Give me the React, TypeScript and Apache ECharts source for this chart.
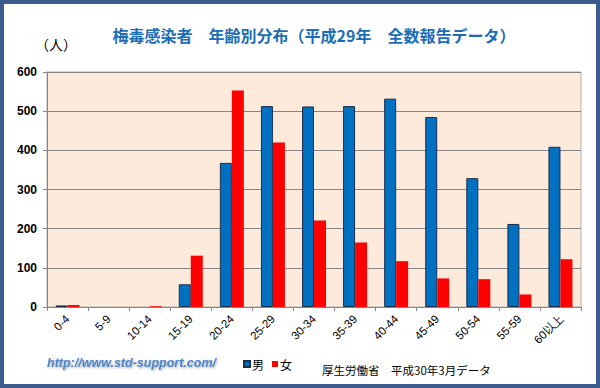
import React, { useEffect, useRef } from "react";
import * as echarts from "echarts";

const categories = ["0-4", "5-9", "10-14", "15-19", "20-24", "25-29", "30-34", "35-39", "40-44", "45-49", "50-54", "55-59", "60以上"];
const male = [4, 0, 0, 58, 368, 513, 512, 513, 532, 485, 329, 212, 409];
const female = [5, 0, 2, 131, 553, 420, 221, 165, 117, 73, 71, 32, 122];
const seriesNames = ["男", "女"];
const titleText = "梅毒感染者　年齢別分布（平成29年　全数報告データ）";
const unitText = "（人）";
const sourceText = "厚生労働省　平成30年3月データ";
const urlText = "http://www.std-support.com/";

const sans = "'Liberation Sans', Arial, sans-serif";
const jp = "'Noto Sans CJK JP', 'Noto Sans', sans-serif";

const nz = (arr: number[]) => arr.map((v) => (v === 0 ? null : v));

export default function App() {
  const ref = useRef<HTMLDivElement>(null);
  useEffect(() => {
    if (!ref.current) return;
    const chart = echarts.init(ref.current, undefined, { renderer: "svg" });
    chart.setOption({
      animation: false,
      backgroundColor: "#ffffff",
      title: {
        text: titleText,
        left: 314,
        textAlign: "center",
        top: 27,
        padding: 0,
        textStyle: { color: "#1C6DB5", fontSize: 16, fontWeight: "bold", fontFamily: jp },
      },
      legend: {
        data: seriesNames,
        left: 238,
        top: 353,
        itemWidth: 6,
        itemHeight: 6,
        itemGap: 8,
        icon: "rect",
        textStyle: { color: "#000", fontSize: 12, fontFamily: jp, padding: [0, 0, 0, -3] },
      },
      grid: {
        left: 47,
        right: 19,
        top: 72,
        bottom: 81,
        show: true,
        backgroundColor: "#FDEADA",
        borderColor: "#B0B0B0",
        borderWidth: 1,
      },
      xAxis: {
        type: "category",
        data: categories,
        axisLine: { lineStyle: { color: "#868686" } },
        axisTick: { show: true, length: 4, lineStyle: { color: "#868686" } },
        axisLabel: {
          rotate: 45,
          interval: 0,
          margin: 10,
          color: "#000",
          fontSize: 11.5,
          fontFamily: sans,
        },
      },
      yAxis: {
        type: "value",
        min: 0,
        max: 600,
        interval: 100,
        axisLine: { show: true, lineStyle: { color: "#868686" } },
        axisTick: { show: true, length: 4, lineStyle: { color: "#868686" } },
        splitLine: { lineStyle: { color: "#868686", width: 1 } },
        axisLabel: { color: "#000", fontSize: 12, fontWeight: "bold", fontFamily: sans, margin: 10 },
      },
      series: [
        {
          name: seriesNames[0],
          type: "bar",
          data: nz(male),
          barWidth: 12,
          barGap: "0%",
          itemStyle: { color: "#0070C0", borderColor: "#1B2F4F", borderWidth: 1 },
        },
        {
          name: seriesNames[1],
          type: "bar",
          data: nz(female),
          barWidth: 12,
          itemStyle: { color: "#FF0000" },
        },
      ],
      graphic: [
        {
          type: "rect",
          shape: { x: 2, y: 2, width: 596, height: 384 },
          style: { fill: "none", stroke: "#3B5C8C", lineWidth: 4 },
          silent: true,
        },
        {
          type: "text",
          left: 35,
          top: 37,
          style: { text: unitText, fill: "#000", font: `14px ${jp}` },
        },
        {
          type: "text",
          left: 47,
          top: 356,
          style: {
            text: urlText,
            fill: "#4F86C8",
            font: `italic bold 12.5px 'Liberation Sans', 'Open Sans', sans-serif`,
            textShadowColor: "rgba(60,60,60,0.45)",
            textShadowBlur: 2,
            textShadowOffsetX: 1,
            textShadowOffsetY: 1,
          },
        },
        {
          type: "text",
          left: 322,
          top: 364,
          style: { text: sourceText, fill: "#000", font: `11.5px ${jp}` },
        },
      ],
    });
    return () => chart.dispose();
  }, []);
  return <div ref={ref} style={{ position: "absolute", left: 0, top: 0, width: 600, height: 388 }} />;
}
